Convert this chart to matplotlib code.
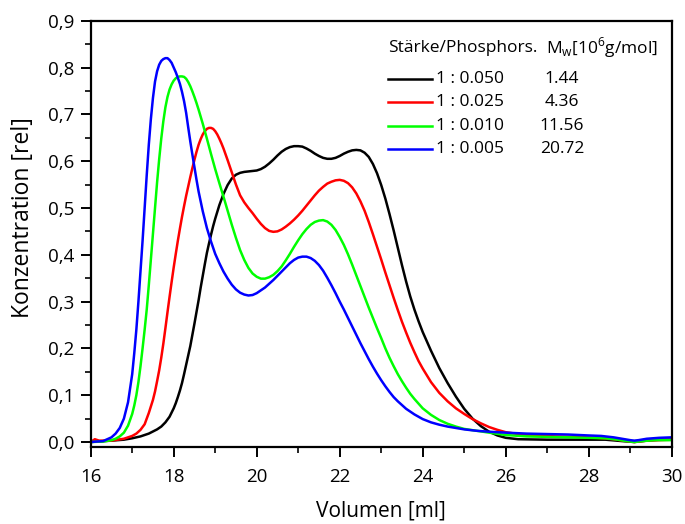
import matplotlib
matplotlib.use("Agg")
import matplotlib.pyplot as plt
from matplotlib.lines import Line2D
from matplotlib.ticker import MultipleLocator, FuncFormatter

plt.rcParams['font.family'] = ['Open Sans', 'DejaVu Sans']

# ---- data (x in ml, y in rel. concentration) ----
black_x = [16.0, 16.5, 16.8, 17.0, 17.2, 17.4, 17.6, 17.7, 17.8, 17.9, 18.0, 18.05, 18.1, 18.15, 18.2, 18.25,
           18.3, 18.35, 18.4, 18.45, 18.5, 18.55, 18.6, 18.65, 18.7, 18.75, 18.8, 18.85, 18.9, 18.95, 19.0,
           19.1, 19.2, 19.3, 19.4, 19.5, 19.6, 19.7, 19.8, 19.9, 20.0, 20.1, 20.2, 20.3, 20.4, 20.5, 20.6,
           20.7, 20.8, 20.9, 21.0, 21.1, 21.2, 21.3, 21.4, 21.5, 21.6, 21.7, 21.8, 21.9, 22.0, 22.1, 22.2,
           22.3, 22.4, 22.5, 22.6, 22.7, 22.8, 22.9, 23.0, 23.1, 23.2, 23.3, 23.4, 23.5, 23.6, 23.7, 23.8,
           23.9, 24.0, 24.2, 24.4, 24.6, 24.8, 25.0, 25.2, 25.4, 25.6, 25.8, 26.0, 26.3, 27.0, 27.5, 28.0,
           28.4, 28.8, 29.1, 29.4, 29.7, 30.0]
black_y = [0.0, 0.003, 0.005, 0.008, 0.012, 0.018, 0.027, 0.033, 0.042, 0.054, 0.072, 0.083, 0.096, 0.11,
           0.126, 0.145, 0.165, 0.185, 0.205, 0.229, 0.253, 0.278, 0.303, 0.33, 0.355, 0.38, 0.404, 0.424,
           0.443, 0.461, 0.477, 0.506, 0.53, 0.549, 0.563, 0.571, 0.575, 0.577, 0.578, 0.579, 0.58, 0.583,
           0.588, 0.595, 0.603, 0.612, 0.62, 0.626, 0.63, 0.632, 0.632, 0.631, 0.627, 0.622, 0.616, 0.611,
           0.607, 0.605, 0.605, 0.607, 0.611, 0.616, 0.62, 0.623, 0.624, 0.623, 0.618, 0.609, 0.594, 0.574,
           0.549, 0.52, 0.487, 0.452, 0.415, 0.378, 0.343, 0.311, 0.283, 0.258, 0.235, 0.195, 0.158, 0.126,
           0.097, 0.071, 0.05, 0.034, 0.022, 0.014, 0.009, 0.006, 0.005, 0.005, 0.005, 0.005, 0.002, 0.0,
           0.003, 0.005, 0.005]

red_x = [16.0, 16.1, 16.2, 16.5, 16.8, 17.0, 17.1, 17.2, 17.3, 17.4, 17.5, 17.55, 17.6, 17.65, 17.7, 17.75,
         17.8, 17.85, 17.9, 17.95, 18.0, 18.05, 18.1, 18.15, 18.2, 18.25, 18.3, 18.35, 18.4, 18.45, 18.5,
         18.55, 18.6, 18.65, 18.7, 18.75, 18.8, 18.85, 18.9, 18.95, 19.0, 19.05, 19.1, 19.15, 19.2, 19.3,
         19.4, 19.5, 19.6, 19.7, 19.8, 19.9, 20.0, 20.1, 20.2, 20.3, 20.4, 20.5, 20.6, 20.7, 20.8, 20.9,
         21.0, 21.1, 21.2, 21.3, 21.4, 21.5, 21.6, 21.7, 21.8, 21.9, 22.0, 22.1, 22.2, 22.3, 22.4, 22.5,
         22.6, 22.7, 22.8, 22.9, 23.0, 23.1, 23.2, 23.3, 23.4, 23.5, 23.6, 23.7, 23.8, 23.9, 24.0, 24.2,
         24.4, 24.6, 24.8, 25.0, 25.2, 25.4, 25.6, 25.8, 26.0, 26.3, 26.7, 27.2, 27.7, 28.2, 28.6, 28.9,
         29.1, 29.4, 29.7, 30.0]
red_y = [0.0, 0.006, 0.003, 0.003, 0.007, 0.013, 0.018, 0.026, 0.038, 0.062, 0.09, 0.108, 0.13, 0.153, 0.18,
         0.21, 0.243, 0.277, 0.31, 0.342, 0.373, 0.402, 0.43, 0.456, 0.481, 0.504, 0.526, 0.546, 0.566, 0.585,
         0.603, 0.62, 0.635, 0.647, 0.657, 0.664, 0.669, 0.671, 0.671, 0.669, 0.664, 0.657, 0.648, 0.638,
         0.627, 0.602, 0.576, 0.55, 0.527, 0.512, 0.5, 0.489, 0.477, 0.466, 0.457, 0.451, 0.449, 0.45, 0.454,
         0.46, 0.467, 0.475, 0.484, 0.494, 0.505, 0.516, 0.527, 0.537, 0.545, 0.552, 0.556, 0.559, 0.56,
         0.558, 0.553, 0.544, 0.531, 0.514, 0.494, 0.47, 0.444, 0.417, 0.39, 0.362, 0.335, 0.308, 0.282,
         0.257, 0.234, 0.212, 0.192, 0.173, 0.157, 0.128, 0.105, 0.087, 0.072, 0.06, 0.049, 0.04, 0.032,
         0.026, 0.021, 0.017, 0.014, 0.012, 0.011, 0.009, 0.006, 0.002, 0.0, 0.003, 0.004, 0.005]

green_x = [16.0, 16.3, 16.5, 16.6, 16.7, 16.8, 16.9, 17.0, 17.05, 17.1, 17.15, 17.2, 17.25, 17.3, 17.35, 17.4,
           17.45, 17.5, 17.55, 17.6, 17.65, 17.7, 17.75, 17.8, 17.85, 17.9, 17.95, 18.0, 18.05, 18.1, 18.15,
           18.2, 18.25, 18.3, 18.35, 18.4, 18.45, 18.5, 18.55, 18.6, 18.7, 18.8, 18.9, 19.0, 19.1, 19.2, 19.3,
           19.4, 19.5, 19.6, 19.7, 19.8, 19.9, 20.0, 20.1, 20.2, 20.3, 20.4, 20.5, 20.6, 20.7, 20.8, 20.9,
           21.0, 21.1, 21.2, 21.3, 21.4, 21.5, 21.6, 21.7, 21.8, 21.9, 22.0, 22.1, 22.2, 22.3, 22.4, 22.5,
           22.6, 22.7, 22.8, 22.9, 23.0, 23.1, 23.2, 23.3, 23.4, 23.5, 23.6, 23.7, 23.8, 24.0, 24.2, 24.4,
           24.6, 24.8, 25.0, 25.3, 25.6, 26.0, 26.5, 27.0, 27.5, 28.0, 28.4, 28.7, 28.9, 29.1, 29.3, 29.6, 30.0]
green_y = [0.0, 0.001, 0.004, 0.007, 0.012, 0.02, 0.035, 0.06, 0.078, 0.1, 0.128, 0.162, 0.2, 0.24, 0.283,
           0.335, 0.39, 0.445, 0.5, 0.555, 0.604, 0.648, 0.685, 0.715, 0.737, 0.753, 0.764, 0.772, 0.777,
           0.78, 0.781, 0.781, 0.78, 0.776, 0.769, 0.76, 0.749, 0.737, 0.724, 0.71, 0.68, 0.648, 0.615, 0.583,
           0.553, 0.524, 0.494, 0.464, 0.436, 0.41, 0.389, 0.372, 0.36, 0.353, 0.349, 0.349, 0.352, 0.357,
           0.365, 0.375, 0.388, 0.402, 0.417, 0.431, 0.444, 0.455, 0.464, 0.47, 0.473, 0.474, 0.471, 0.464,
           0.453, 0.438, 0.421, 0.401, 0.379, 0.356, 0.333, 0.31, 0.287, 0.265, 0.243, 0.222, 0.2, 0.18,
           0.162, 0.145, 0.13, 0.116, 0.103, 0.092, 0.072, 0.058, 0.047, 0.039, 0.033, 0.028, 0.024, 0.02,
           0.015, 0.012, 0.011, 0.01, 0.009, 0.008, 0.005, 0.002, 0.0, 0.002, 0.004, 0.004]

blue_x = [16.0, 16.3, 16.5, 16.6, 16.7, 16.8, 16.9, 17.0, 17.05, 17.1, 17.15, 17.2, 17.25, 17.3, 17.35, 17.4,
          17.45, 17.5, 17.55, 17.6, 17.65, 17.7, 17.75, 17.8, 17.85, 17.9, 17.95, 18.0, 18.05, 18.1, 18.15,
          18.2, 18.25, 18.3, 18.35, 18.4, 18.45, 18.5, 18.55, 18.6, 18.7, 18.8, 18.9, 19.0, 19.1, 19.2, 19.3,
          19.4, 19.5, 19.6, 19.7, 19.8, 19.9, 20.0, 20.1, 20.2, 20.3, 20.4, 20.5, 20.6, 20.7, 20.8, 20.9,
          21.0, 21.1, 21.2, 21.3, 21.4, 21.5, 21.6, 21.7, 21.8, 21.9, 22.0, 22.1, 22.2, 22.3, 22.4, 22.5,
          22.6, 22.7, 22.8, 22.9, 23.0, 23.1, 23.2, 23.3, 23.4, 23.5, 23.6, 23.8, 24.0, 24.2, 24.4, 24.6,
          24.8, 25.0, 25.3, 25.6, 26.0, 26.5, 27.0, 27.5, 28.0, 28.3, 28.6, 28.8, 29.0, 29.1, 29.2, 29.4,
          29.7, 30.0]
blue_y = [0.0, 0.002, 0.01, 0.018, 0.03, 0.05, 0.085, 0.145, 0.19, 0.24, 0.3, 0.365, 0.43, 0.5, 0.57, 0.635,
          0.69, 0.735, 0.77, 0.792, 0.806, 0.814, 0.818, 0.82, 0.82, 0.816, 0.81, 0.8, 0.79, 0.778, 0.765,
          0.748, 0.728, 0.703, 0.672, 0.642, 0.614, 0.587, 0.56, 0.535, 0.493, 0.457, 0.428, 0.402, 0.382,
          0.364, 0.349, 0.336, 0.326, 0.319, 0.315, 0.313, 0.314, 0.318, 0.324, 0.33, 0.338, 0.346, 0.355,
          0.364, 0.373, 0.382, 0.389, 0.394, 0.396, 0.396, 0.393, 0.387, 0.378, 0.366, 0.351, 0.335, 0.318,
          0.3, 0.283, 0.265, 0.247, 0.229, 0.211, 0.194, 0.177, 0.161, 0.146, 0.132, 0.119, 0.107, 0.096,
          0.087, 0.079, 0.071, 0.059, 0.049, 0.042, 0.037, 0.033, 0.03, 0.027, 0.024, 0.022, 0.02, 0.018,
          0.017, 0.016, 0.014, 0.013, 0.01, 0.007, 0.004, 0.003, 0.004, 0.007, 0.009, 0.01]

series_labels = ["1 : 0.050", "1 : 0.025", "1 : 0.010", "1 : 0.005"]
mw_values = ["1.44", "4.36", "11.56", "20.72"]
colors = ["#000000", "#ff0000", "#00ff00", "#0000ff"]

W, H = 685, 524
fig = plt.figure(figsize=(W / 100, H / 100), dpi=100)
ax = fig.add_axes([90.7 / W, 1 - 446.7 / H, (671.7 - 90.7) / W, (446.7 - 20.7) / H])

for xs, ys, c in zip([black_x, red_x, green_x, blue_x], [black_y, red_y, green_y, blue_y], colors):
    ax.plot(xs, ys, color=c, lw=1.8, solid_joinstyle='round', solid_capstyle='round')

ax.set_xlim(16, 30)
ax.set_ylim(-0.01, 0.9)
ax.xaxis.set_major_locator(MultipleLocator(2))
ax.xaxis.set_minor_locator(MultipleLocator(1))
ax.yaxis.set_major_locator(MultipleLocator(0.1))
ax.yaxis.set_minor_locator(MultipleLocator(0.05))
ax.yaxis.set_major_formatter(FuncFormatter(lambda v, p: f"{v:.1f}".replace('.', ',')))
ax.tick_params(which='major', direction='out', length=7, width=1.4, labelsize=13.5, pad=5)
ax.tick_params(axis='x', which='major', pad=8)
ax.tick_params(which='minor', direction='out', length=4.5, width=1.2)
for s in ax.spines.values():
    s.set_linewidth(1.6)

ax.set_xlabel("Volumen [ml]", fontsize=15, labelpad=11)
ax.set_ylabel("Konzentration [rel]", fontsize=16.5, va='center')
ax.yaxis.set_label_coords((23 - 90.7) / 581, (446.7 - 218) / 426)

# ---- legend (custom) ----
def fx(px):
    return px / W

def fy(py):
    return 1 - py / H

fig.text(fx(388), fy(48), "Stärke/Phosphors.", fontsize=12.5, va='center', ha='left')
fig.text(fx(546), fy(48), r"M$_\mathregular{w}$[10$^\mathregular{6}$g/mol]", fontsize=12.5, va='center', ha='left')
rows_py = [79, 102, 125.5, 149]
for lbl, mw, c, py in zip(series_labels, mw_values, colors, rows_py):
    fig.add_artist(Line2D([fx(388), fx(432)], [fy(py), fy(py)], color=c, lw=1.8))
    fig.text(fx(436), fy(py), lbl, fontsize=12.5, va='center', ha='left')
    fig.text(fx(562), fy(py), mw, fontsize=12.5, va='center', ha='center')

fig.savefig("out.png", dpi=100)
